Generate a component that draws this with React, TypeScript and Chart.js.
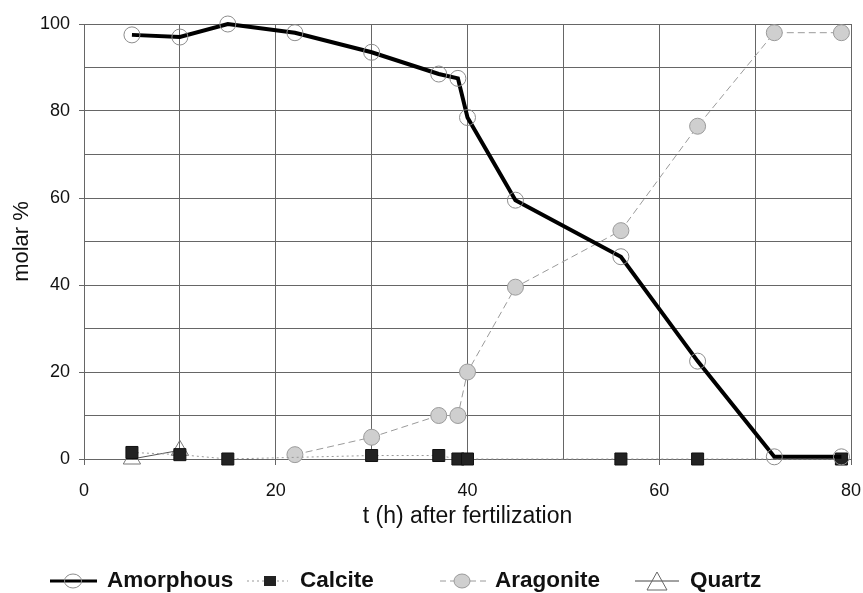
import React, { useEffect, useRef } from "react";
import { Chart, registerables } from "chart.js";

Chart.register(...registerables);

// ---- data ----
const amorphousT = [5, 10, 15, 22, 30, 37, 39, 40, 45, 56, 64, 72, 79];
const amorphousPct = [97.5, 97, 100, 98, 93.5, 88.5, 87.5, 78.5, 59.5, 46.5, 22.5, 0.5, 0.5];

const calciteT = [5, 10, 15, 30, 37, 39, 40, 56, 64, 79];
const calcitePct = [1.5, 1, 0, 0.8, 0.8, 0, 0, 0, 0, 0];

const aragoniteT = [22, 30, 37, 39, 40, 45, 56, 64, 72, 79];
const aragonitePct = [1, 5, 10, 10, 20, 39.5, 52.5, 76.5, 98, 98];

const quartzT = [5, 10];
const quartzPct = [0, 2];

const xTickLabels = [0, 20, 40, 60, 80];
const yTickLabels = [0, 20, 40, 60, 80, 100];

const seriesNames = ["Amorphous", "Calcite", "Aragonite", "Quartz"];
const xTitle = "t (h) after fertilization";
const yTitle = "molar %";

const FONT = "'Liberation Sans', Arial, Helvetica, sans-serif";
const GRID = "#666666";

const toPts = (xs: number[], ys: number[]) => xs.map((x, i) => ({ x, y: ys[i] }));

export default function App() {
  const ref = useRef<HTMLCanvasElement | null>(null);

  useEffect(() => {
    const canvas = ref.current;
    if (!canvas) return;
    const chart = new Chart(canvas, {
      type: "line",
      data: {
        datasets: [
          {
            label: seriesNames[0],
            data: toPts(amorphousT, amorphousPct),
            borderColor: "#000",
            borderWidth: 4,
            pointStyle: "circle",
            pointRadius: 8,
            pointBorderColor: "#8c8c8c",
            pointBorderWidth: 1,
            pointBackgroundColor: "rgba(255,255,255,0)",
            tension: 0,
            clip: false,
          },
          {
            label: seriesNames[1],
            data: toPts(calciteT, calcitePct),
            borderColor: "#999",
            borderWidth: 1,
            borderDash: [2, 3],
            pointStyle: "rect",
            pointRadius: 8.5,
            pointBorderColor: "#111",
            pointBorderWidth: 1,
            pointBackgroundColor: "#222",
            tension: 0,
            clip: false,
          },
          {
            label: seriesNames[2],
            data: toPts(aragoniteT, aragonitePct),
            borderColor: "#9a9a9a",
            borderWidth: 1,
            borderDash: [7, 4],
            pointStyle: "circle",
            pointRadius: 8,
            pointBorderColor: "#9a9a9a",
            pointBorderWidth: 1,
            pointBackgroundColor: "#cfcfcf",
            tension: 0,
            clip: false,
          },
          {
            label: seriesNames[3],
            data: toPts(quartzT, quartzPct),
            borderColor: "#555",
            borderWidth: 1,
            pointStyle: "triangle",
            pointRadius: 10,
            pointBorderColor: "#777",
            pointBorderWidth: 1,
            pointBackgroundColor: "rgba(255,255,255,0)",
            tension: 0,
            clip: false,
          },
        ],
      },
      options: {
        animation: false,
        responsive: false,
        devicePixelRatio: 1,
        layout: { padding: { top: 24, right: 12, bottom: 54, left: 0 } },
        plugins: {
          legend: { display: false },
          tooltip: { enabled: false },
        },
        scales: {
          x: {
            type: "linear",
            min: 0,
            max: 80,
            afterFit: (s: any) => {
              s.height = 80;
              s.paddingLeft = 0;
              s.paddingRight = 0;
            },
            ticks: {
              stepSize: 10,
              autoSkip: false,
              maxRotation: 0,
              padding: 15,
              color: "#111",
              font: { family: FONT, size: 18 },
              callback: (v: any) => (xTickLabels.includes(Number(v)) ? String(v) : ""),
            },
            grid: {
              color: GRID,
              lineWidth: 1,
              tickLength: 6,
              tickColor: (c: any) =>
                c.tick && xTickLabels.includes(c.tick.value) ? GRID : "rgba(0,0,0,0)",
            },
            border: { color: GRID, width: 1 },
            title: {
              display: true,
              text: xTitle,
              color: "#111",
              font: { family: FONT, size: 23 },
              padding: { top: 0, bottom: 9 },
            },
          },
          y: {
            type: "linear",
            min: 0,
            max: 100,
            afterFit: (s: any) => {
              s.width = 84;
              s.paddingTop = 0;
              s.paddingBottom = 0;
            },
            ticks: {
              stepSize: 10,
              autoSkip: false,
              padding: 9,
              color: "#111",
              font: { family: FONT, size: 18 },
              callback: (v: any) => (yTickLabels.includes(Number(v)) ? String(v) : ""),
            },
            grid: {
              color: GRID,
              lineWidth: 1,
              tickLength: 5,
              tickColor: (c: any) =>
                c.tick && yTickLabels.includes(c.tick.value) ? GRID : "rgba(0,0,0,0)",
            },
            border: { color: GRID, width: 1 },
            title: {
              display: true,
              text: yTitle,
              color: "#111",
              font: { family: FONT, size: 22 },
              padding: { top: 9, bottom: 0 },
            },
          },
        },
      },
    });
    return () => chart.destroy();
  }, []);

  const legendText: React.CSSProperties = {
    position: "absolute",
    top: 569,
    fontFamily: FONT,
    fontWeight: "bold",
    fontSize: "22.5px",
    lineHeight: "22.5px",
    color: "#111",
    whiteSpace: "nowrap",
  };
  const ly = 581;

  return (
    <div
      style={{
        position: "fixed",
        left: 0,
        top: 0,
        width: 863,
        height: 593,
        background: "#fff",
        overflow: "hidden",
      }}
    >
      <canvas ref={ref} width={863} height={593} style={{ display: "block" }} />
      <svg
        width={863}
        height={593}
        style={{ position: "absolute", left: 0, top: 0, pointerEvents: "none" }}
      >
        {/* Amorphous */}
        <line x1={50} x2={97} y1={ly} y2={ly} stroke="#000" strokeWidth={3} />
        <ellipse cx={73} cy={ly} rx={8.5} ry={7} fill="none" stroke="#8c8c8c" strokeWidth={1} />
        {/* Calcite */}
        <line x1={247} x2={288} y1={ly} y2={ly} stroke="#999" strokeWidth={1} strokeDasharray="2 3" />
        <rect x={264} y={ly - 5} width={12} height={10} fill="#222" />
        {/* Aragonite */}
        <line x1={440} x2={486} y1={ly} y2={ly} stroke="#9a9a9a" strokeWidth={1} strokeDasharray="6 4" />
        <ellipse cx={462} cy={ly} rx={8} ry={7} fill="#cfcfcf" stroke="#9a9a9a" strokeWidth={1} />
        {/* Quartz */}
        <line x1={635} x2={679} y1={ly} y2={ly} stroke="#444" strokeWidth={1} />
        <polygon
          points={`657,${ly - 9} 647,${ly + 9} 667,${ly + 9}`}
          fill="none"
          stroke="#666"
          strokeWidth={1}
        />
      </svg>
      <div style={{ ...legendText, left: 107 }}>{seriesNames[0]}</div>
      <div style={{ ...legendText, left: 300 }}>{seriesNames[1]}</div>
      <div style={{ ...legendText, left: 495 }}>{seriesNames[2]}</div>
      <div style={{ ...legendText, left: 690 }}>{seriesNames[3]}</div>
    </div>
  );
}
